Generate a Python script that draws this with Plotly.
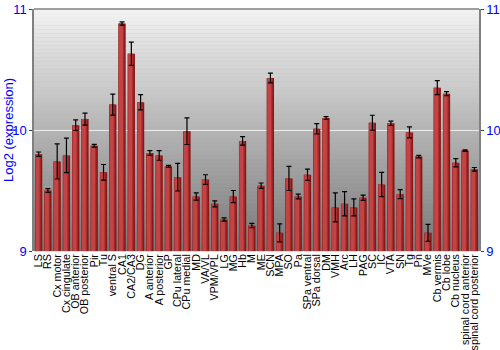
import plotly.graph_objects as go

regions = ["LS", "RS", "Cx motor", "Cx cingulate", "OB anterior", "OB posterior", "Pir", "Tu",
           "ventral S", "CA1", "CA2/CA3", "DG", "A anterior", "A posterior", "GP", "CPu lateral",
           "CPu medial", "MD", "VA/VL", "VPM/VPL", "LG", "MG", "Hb", "M", "ME", "SCN", "MPA", "SO",
           "Pa", "SPa ventral", "SPa dorsal", "DM", "VMH", "Arc", "LH", "PAG", "SC", "IC", "VTA",
           "SN", "Tg", "Pn", "MVe", "Cb vermis", "Cb lobe", "Cb nucleus", "spinal cord anterior",
           "spinal cord posterior"]

expression = [9.80, 9.50, 9.74, 9.79, 10.04, 10.09, 9.87, 9.65,
              10.21, 10.88, 10.63, 10.23, 9.81, 9.79, 9.70, 9.61,
              9.99, 9.45, 9.59, 9.39, 9.26, 9.45, 9.91, 9.21, 9.54, 10.43, 9.15, 9.60,
              9.45, 9.63, 10.01, 10.10, 9.36, 9.39, 9.36, 9.44, 10.06, 9.55, 10.055,
              9.47, 9.98, 9.78, 9.15, 10.35, 10.30, 9.73, 9.83,
              9.675]

error = [0.018, 0.015, 0.145, 0.143, 0.044, 0.05, 0.012, 0.065,
         0.087, 0.014, 0.096, 0.063, 0.02, 0.04, 0.008, 0.114,
         0.11, 0.03, 0.04, 0.025, 0.013, 0.05, 0.035, 0.018, 0.022, 0.04, 0.075, 0.10,
         0.02, 0.047, 0.043, 0.011, 0.12, 0.10, 0.07, 0.022, 0.062, 0.10, 0.018,
         0.037, 0.045, 0.011, 0.07, 0.058, 0.017, 0.034, 0.006,
         0.015]

ytick_vals = [9, 10, 11]

fig = go.Figure()

# base (dark) bar
fig.add_trace(go.Bar(
    x=regions, y=expression, width=0.78, offset=-0.39,
    marker=dict(color="#861818", line=dict(width=0)),
    showlegend=False, hoverinfo="skip"))
# mid highlight
fig.add_trace(go.Bar(
    x=regions, y=expression, width=0.62, offset=-0.39,
    marker=dict(color="#a82a2a", line=dict(width=0)),
    showlegend=False, hoverinfo="skip"))
# light highlight
fig.add_trace(go.Bar(
    x=regions, y=expression, width=0.42, offset=-0.33,
    marker=dict(color="#c24444", line=dict(width=0)),
    showlegend=False, hoverinfo="skip"))
# error bars (centred)
fig.add_trace(go.Scatter(
    x=regions, y=expression, mode="markers", marker=dict(opacity=0, size=1),
    error_y=dict(type="data", array=error, color="black", thickness=1.2, width=2.5),
    showlegend=False, hoverinfo="skip"))
# invisible trace for right axis
fig.add_trace(go.Scatter(x=[regions[0]], y=[10], yaxis="y2", mode="markers",
                         marker=dict(opacity=0), showlegend=False, hoverinfo="skip"))

# vertical gradient background
shapes = []
n = 60
top = (0xf2, 0xf2, 0xf2)
bot = (0x76, 0x76, 0x76)
for i in range(n):
    t = (i + 0.5) / n
    c = tuple(int(round(top[k] + (bot[k] - top[k]) * t)) for k in range(3))
    shapes.append(dict(type="rect", xref="paper", yref="paper",
                       x0=0, x1=1, y1=1 - i / n, y0=1 - (i + 1) / n - 0.001,
                       fillcolor="rgb(%d,%d,%d)" % c, line=dict(width=0), layer="below"))
shapes.append(dict(type="line", xref="paper", yref="paper", x0=0, x1=1, y0=1, y1=1,
                   line=dict(color="#808080", width=1.5)))

axis_font = dict(family="Liberation Sans, Arial, sans-serif", size=13, color="blue")

fig.update_layout(
    width=500, height=350,
    margin=dict(l=34, r=21, t=9, b=99),
    paper_bgcolor="white", plot_bgcolor="#b0b0b0",
    barmode="overlay",
    shapes=shapes,
    font=dict(family="Liberation Sans, Arial, sans-serif"),
    annotations=[dict(text="Log2 (expression)", xref="paper", yref="paper", x=0, y=0.5,
                      xanchor="center", yanchor="middle", xshift=-26, textangle=-90,
                      showarrow=False, font=dict(size=13, color="blue"))],
    xaxis=dict(tickangle=-90, tickfont=dict(size=10.7, color="black"),
               tickmode="array", tickvals=regions, ticktext=regions, automargin=False,
               showgrid=False, ticks="", showline=False, range=[-0.5, len(regions) - 0.5]),
    yaxis=dict(range=[9, 11], tickvals=ytick_vals, tickfont=axis_font, automargin=False,
               showgrid=True, gridcolor="#ececec", gridwidth=1.2,
               ticks="outside", ticklen=3, tickcolor="#404040",
               showline=True, linecolor="#808080", linewidth=1.5, zeroline=False),
    yaxis2=dict(range=[9, 11], tickvals=ytick_vals, tickfont=axis_font, overlaying="y",
                automargin=False,
                side="right", showgrid=False, ticks="outside", ticklen=3, tickcolor="#404040",
                showline=True, linecolor="#808080", linewidth=1.5, zeroline=False),
)

fig.write_html("out.html")
